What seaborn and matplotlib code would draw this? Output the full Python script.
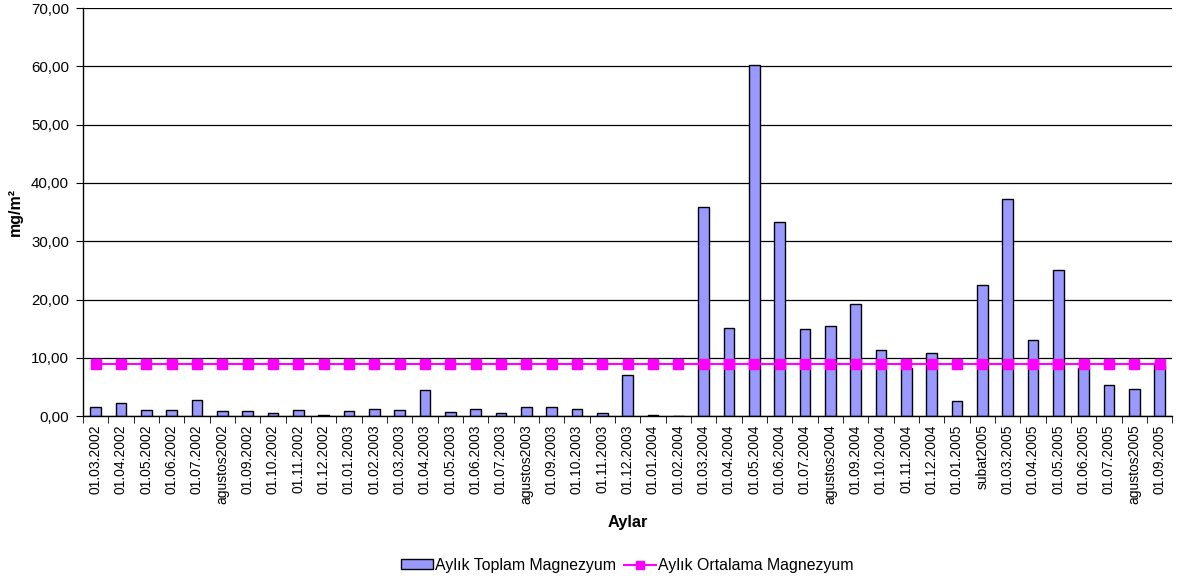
"""Aylık toplam ve ortalama magnezyum (mg/m²) bar + line chart."""

import matplotlib

matplotlib.use("Agg")
import matplotlib.pyplot as plt
import numpy as np
import pandas as pd
import seaborn as sns
from matplotlib.lines import Line2D
from matplotlib.patches import Patch
from matplotlib.ticker import FixedLocator, FuncFormatter

MONTHS = [
	"01.03.2002", "01.04.2002", "01.05.2002", "01.06.2002", "01.07.2002",
	"agustos2002", "01.09.2002", "01.10.2002", "01.11.2002", "01.12.2002",
	"01.01.2003", "01.02.2003", "01.03.2003", "01.04.2003", "01.05.2003",
	"01.06.2003", "01.07.2003", "agustos2003", "01.09.2003", "01.10.2003",
	"01.11.2003", "01.12.2003", "01.01.2004", "01.02.2004", "01.03.2004",
	"01.04.2004", "01.05.2004", "01.06.2004", "01.07.2004", "agustos2004",
	"01.09.2004", "01.10.2004", "01.11.2004", "01.12.2004", "01.01.2005",
	"subat2005", "01.03.2005", "01.04.2005", "01.05.2005", "01.06.2005",
	"01.07.2005", "agustos2005", "01.09.2005",
]

# monthly total magnesium
TOTAL = [
	1.5, 2.2, 1.0, 1.0, 2.7, 0.9, 0.9, 0.57, 1.0, 0.2,
	0.9, 1.15, 1.0, 4.4, 0.74, 1.2, 0.6, 1.5, 1.6, 1.2,
	0.6, 7.0, 0.15, 0.1, 35.9, 15.1, 60.3, 33.3, 14.9, 15.5,
	19.3, 11.4, 8.3, 10.9, 2.6, 22.5, 37.3, 13.1, 25.0, 8.3,
	5.3, 4.6, 8.7,
]

# monthly average line (flat)
AVERAGE = [8.99] * len(MONTHS)

BAR_COLOUR = "#9999FF"
LINE_COLOUR = "#FF00FF"

plt.rcParams["font.family"] = ["Liberation Sans", "DejaVu Sans"]

df = pd.DataFrame({"month": MONTHS, "total": TOTAL, "average": AVERAGE})

fig = plt.figure(figsize=(11.77, 5.82), dpi=100)
ax = fig.add_axes([0.0705, 0.285, 0.9255, 0.701])

ax.set_axisbelow(True)
ax.yaxis.grid(True, color="black", linewidth=0.9)

sns.barplot(
	data=df,
	x="month",
	y="total",
	ax=ax,
	color=BAR_COLOUR,
	saturation=1,
	width=0.42,
	edgecolor="black",
	linewidth=1,
	order=MONTHS,
)
positions = np.arange(len(MONTHS))
ax.plot(
	positions,
	df["average"],
	color=LINE_COLOUR,
	linewidth=1.5,
	marker="s",
	markersize=7,
	zorder=3,
)

ax.set_xlim(-0.5, len(MONTHS) - 0.5)
ax.set_ylim(0, 70)
ax.set_yticks(np.arange(0, 71, 10))
ax.yaxis.set_major_formatter(FuncFormatter(lambda v, _: f"{v:.2f}".replace(".", ",")))

ax.set_xticks(positions)
ax.set_xticklabels(MONTHS, rotation=90, fontsize=10)
ax.tick_params(axis="x", which="major", length=0, pad=6)
ax.xaxis.set_minor_locator(FixedLocator(np.arange(-0.5, len(MONTHS), 1)))
ax.tick_params(axis="x", which="minor", length=5, direction="out", color="black")
ax.tick_params(axis="y", labelsize=10.8, length=5, pad=5, direction="out", color="black")

for side in ["top", "right"]:
	ax.spines[side].set_visible(False)
for side in ["left", "bottom"]:
	ax.spines[side].set_color("black")
	ax.spines[side].set_linewidth(1)

ax.set_xlabel("Aylar", fontsize=11.8, fontweight="bold", labelpad=8)
ax.set_ylabel("mg/m²", fontsize=11.5, fontweight="bold", labelpad=6)

handles = [
	Patch(facecolor=BAR_COLOUR, edgecolor="black", linewidth=1),
	Line2D([], [], color=LINE_COLOUR, marker="s", markersize=6, linewidth=1.5),
]
fig.legend(
	handles,
	["Aylık Toplam Magnezyum", "Aylık Ortalama Magnezyum"],
	loc="center",
	bbox_to_anchor=(0.533, 0.029),
	ncol=2,
	frameon=False,
	fontsize=11.4,
	handlelength=2.0,
	handleheight=0.5,
	handletextpad=0.15,
	columnspacing=0.5,
)

fig.savefig("out.png", dpi=100)
